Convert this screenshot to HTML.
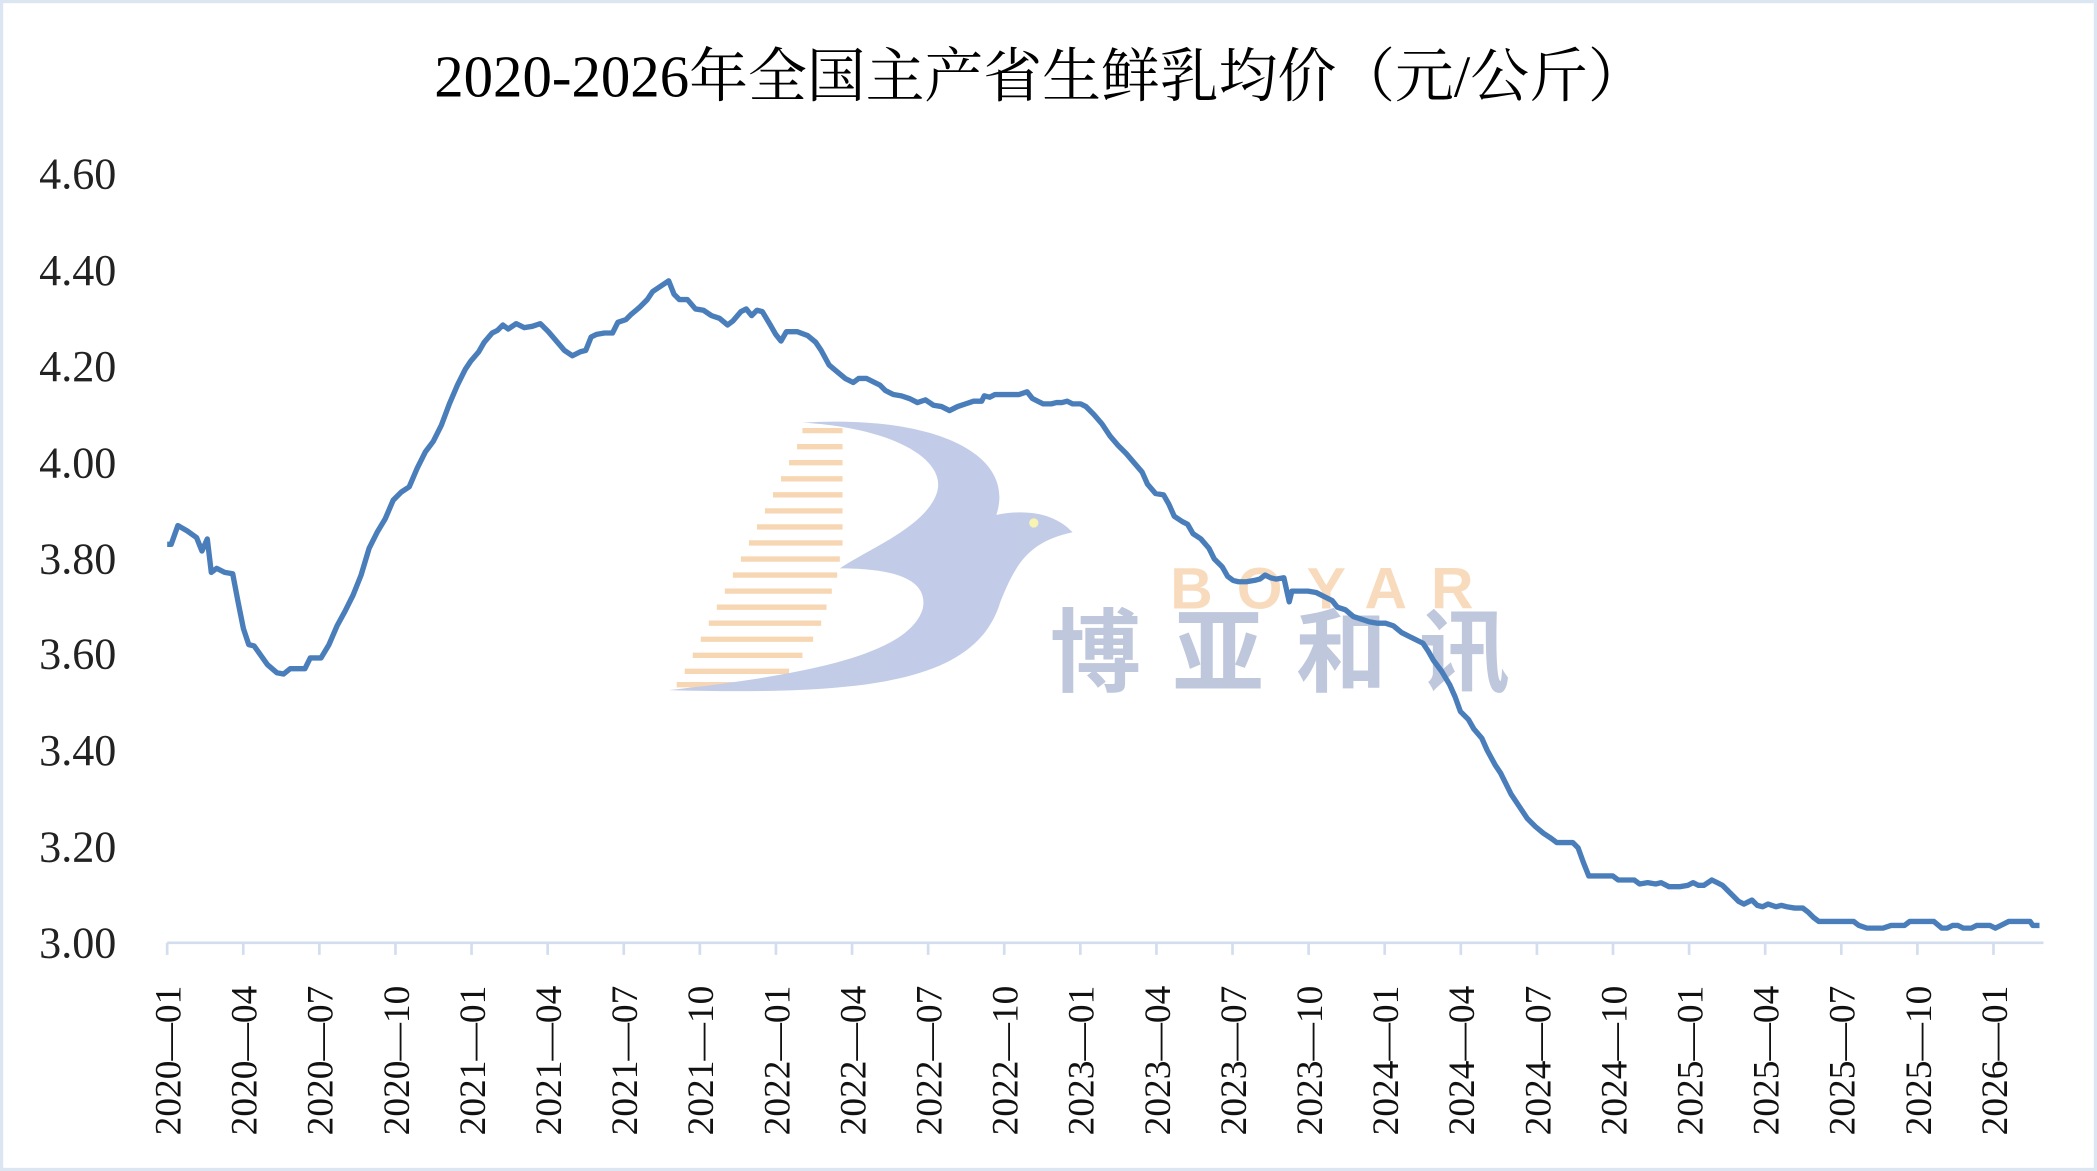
<!DOCTYPE html>
<html><head><meta charset="utf-8"><style>
html,body{margin:0;padding:0;background:#fff;}
svg{display:block;}
</style></head><body>
<svg width="2097" height="1171" viewBox="0 0 1568 875.6" preserveAspectRatio="none" xmlns="http://www.w3.org/2000/svg">
<rect x="0" y="0" width="1568" height="875.6" fill="#fff"/>
<rect x="1.2" y="1.2" width="1565.6" height="873.2" fill="none" stroke="#dce6f2" stroke-width="2.4"/>
<text x="778" y="72" text-anchor="middle" font-family="Liberation Serif, 'Noto Serif CJK SC', serif" font-size="44" fill="#000">2020-2026年全国主产省生鲜乳均价（元/公斤）</text>
<g font-family="Liberation Serif, serif" font-size="33" fill="#222" text-anchor="end">
<text x="87" y="141">4.60</text><text x="87" y="213">4.40</text><text x="87" y="285">4.20</text>
<text x="87" y="357">4.00</text><text x="87" y="429">3.80</text><text x="87" y="500">3.60</text>
<text x="87" y="572">3.40</text><text x="87" y="644">3.20</text><text x="87" y="716">3.00</text>
</g>
<!-- watermark -->
<g opacity="0.75">
<g stroke="#f5c99a" stroke-width="4">
<line x1="600" y1="322" x2="630" y2="322"/><line x1="596" y1="334" x2="630" y2="334"/><line x1="590" y1="346" x2="630" y2="346"/><line x1="584" y1="358" x2="630" y2="358"/><line x1="578" y1="370" x2="630" y2="370"/><line x1="572" y1="382" x2="630" y2="382"/><line x1="566" y1="394" x2="630" y2="394"/><line x1="560" y1="406" x2="630" y2="406"/><line x1="554" y1="418" x2="628" y2="418"/><line x1="548" y1="430" x2="626" y2="430"/><line x1="542" y1="442" x2="622" y2="442"/><line x1="536" y1="454" x2="618" y2="454"/><line x1="530" y1="466" x2="614" y2="466"/><line x1="524" y1="478" x2="608" y2="478"/><line x1="518" y1="490" x2="600" y2="490"/><line x1="512" y1="502" x2="590" y2="502"/><line x1="506" y1="512" x2="580" y2="512"/>
</g>
<path d="M600 316 C700 310 760 340 745 385 C770 380 790 385 802 398 C770 405 760 420 748 450 C730 510 650 520 500 516 C600 505 680 490 690 455 C695 430 660 425 628 425 C650 410 690 395 700 370 C710 345 670 320 600 316 Z" fill="#aebbe0"/>
<circle cx="773" cy="391" r="3.5" fill="#f3ef9a"/>
<text x="875" y="455" font-family="Liberation Sans, sans-serif" font-weight="bold" font-size="44" letter-spacing="18" fill="#f6cfa6">BOYAR</text>
<text x="785" y="512" font-family="'Noto Sans CJK SC', sans-serif" font-weight="bold" font-size="68" letter-spacing="24" fill="#a9b5d0">博亚和讯</text>
</g>
<!-- axis -->
<line x1="125" y1="705" x2="1528" y2="705" stroke="#d2deee" stroke-width="2"/>
<g stroke="#d2deee" stroke-width="2">
<line x1="125" y1="705" x2="125" y2="714"/><line x1="181.9" y1="705" x2="181.9" y2="714"/><line x1="238.8" y1="705" x2="238.8" y2="714"/><line x1="295.7" y1="705" x2="295.7" y2="714"/><line x1="352.6" y1="705" x2="352.6" y2="714"/><line x1="409.5" y1="705" x2="409.5" y2="714"/><line x1="466.4" y1="705" x2="466.4" y2="714"/><line x1="523.3" y1="705" x2="523.3" y2="714"/><line x1="580.2" y1="705" x2="580.2" y2="714"/><line x1="637.1" y1="705" x2="637.1" y2="714"/><line x1="694" y1="705" x2="694" y2="714"/><line x1="750.9" y1="705" x2="750.9" y2="714"/><line x1="807.8" y1="705" x2="807.8" y2="714"/><line x1="864.7" y1="705" x2="864.7" y2="714"/><line x1="921.6" y1="705" x2="921.6" y2="714"/><line x1="978.5" y1="705" x2="978.5" y2="714"/><line x1="1035.4" y1="705" x2="1035.4" y2="714"/><line x1="1092.3" y1="705" x2="1092.3" y2="714"/><line x1="1149.2" y1="705" x2="1149.2" y2="714"/><line x1="1206.1" y1="705" x2="1206.1" y2="714"/><line x1="1263" y1="705" x2="1263" y2="714"/><line x1="1319.9" y1="705" x2="1319.9" y2="714"/><line x1="1376.8" y1="705" x2="1376.8" y2="714"/><line x1="1433.7" y1="705" x2="1433.7" y2="714"/><line x1="1490.6" y1="705" x2="1490.6" y2="714"/>
</g>
<g font-family="Liberation Serif, serif" font-size="28" fill="#111" text-anchor="end">
<text transform="translate(135,737) rotate(-90)">2020—01</text>
<text transform="translate(191.9,737) rotate(-90)">2020—04</text>
<text transform="translate(248.8,737) rotate(-90)">2020—07</text>
<text transform="translate(305.7,737) rotate(-90)">2020—10</text>
<text transform="translate(362.6,737) rotate(-90)">2021—01</text>
<text transform="translate(419.5,737) rotate(-90)">2021—04</text>
<text transform="translate(476.4,737) rotate(-90)">2021—07</text>
<text transform="translate(533.3,737) rotate(-90)">2021—10</text>
<text transform="translate(590.2,737) rotate(-90)">2022—01</text>
<text transform="translate(647.1,737) rotate(-90)">2022—04</text>
<text transform="translate(704,737) rotate(-90)">2022—07</text>
<text transform="translate(760.9,737) rotate(-90)">2022—10</text>
<text transform="translate(817.8,737) rotate(-90)">2023—01</text>
<text transform="translate(874.7,737) rotate(-90)">2023—04</text>
<text transform="translate(931.6,737) rotate(-90)">2023—07</text>
<text transform="translate(988.5,737) rotate(-90)">2023—10</text>
<text transform="translate(1045.4,737) rotate(-90)">2024—01</text>
<text transform="translate(1102.3,737) rotate(-90)">2024—04</text>
<text transform="translate(1159.2,737) rotate(-90)">2024—07</text>
<text transform="translate(1216.1,737) rotate(-90)">2024—10</text>
<text transform="translate(1273,737) rotate(-90)">2025—01</text>
<text transform="translate(1329.9,737) rotate(-90)">2025—04</text>
<text transform="translate(1386.8,737) rotate(-90)">2025—07</text>
<text transform="translate(1443.7,737) rotate(-90)">2025—10</text>
<text transform="translate(1500.6,737) rotate(-90)">2026—01</text>
</g>
<polyline fill="none" stroke="#4a7ebb" stroke-width="4" stroke-linejoin="round" points="125,407 128,407 133,393 140,397 147,402 151,412 155,403 158,428 162,425 168,428 174,429 178,450 182,470 186,482 190,483 195,490 200,497 207,503 212,504 217,500 228,500 232,492 240,492 246,482 252,468 258,457 264,445 270,430 276,410 282,398 288,388 294,374 300,368 306,364 312,350 318,338 324,330 330,318 336,302 342,288 348,276 352,270 358,263 362,256 368,249 372,247 376,243 380,246 386,242 392,245 398,244 404,242 410,248 416,255 422,262 428,266 434,263 438,262 442,252 446,250 452,249 458,249 462,241 468,239 472,235 478,230 484,224 488,218 494,214 500,210 504,220 508,224 514,224 520,231 526,232 532,236 538,238 544,243 548,240 554,233 558,231 562,236 566,232 570,233 576,243 580,250 584,255 588,248 596,248 604,251 610,256 614,262 620,273 626,278 632,283 638,286 642,283 648,283 654,286 658,288 662,292 668,295 674,296 680,298 686,301 692,299 698,303 704,304 710,307 716,304 722,302 728,300 734,300 736,296 740,297 744,295 750,295 756,295 762,295 768,293 772,298 776,300 780,302 786,302 790,301 794,301 798,300 802,302 808,302 812,304 818,310 824,317 830,326 836,333 842,339 848,346 854,353 858,362 864,369 870,370 874,377 878,386 884,390 888,392 892,399 898,403 904,410 908,418 914,424 918,431 922,434 926,435 932,435 938,434 942,433 946,430 950,432 954,433 960,432 964,450 966,442 972,442 978,442 984,443 990,446 996,449 1000,454 1006,456 1012,461 1018,463 1024,465 1030,466 1036,466 1042,468 1048,473 1054,476 1058,478 1064,481 1068,487 1072,494 1078,502 1084,512 1088,521 1092,532 1098,538 1102,545 1108,552 1112,561 1118,572 1122,578 1126,586 1130,594 1136,603 1142,612 1148,618 1154,623 1160,627 1164,630 1170,630 1176,630 1180,634 1184,645 1188,655 1192,655 1198,655 1206,655 1210,658 1216,658 1222,658 1226,661 1232,660 1238,661 1242,660 1248,663 1256,663 1262,662 1266,660 1270,662 1274,662 1280,658 1284,660 1288,662 1292,666 1296,670 1300,674 1304,676 1310,673 1314,677 1318,678 1322,676 1328,678 1332,677 1336,678 1342,679 1348,679 1352,682 1356,686 1360,689 1364,689 1370,689 1376,689 1382,689 1386,689 1390,692 1396,694 1402,694 1408,694 1414,692 1420,692 1424,692 1428,689 1434,689 1440,689 1446,689 1452,694 1456,694 1460,692 1464,692 1468,694 1474,694 1478,692 1482,692 1488,692 1492,694 1496,692 1502,689 1508,689 1514,689 1518,689 1520,692 1525,692"/>
</svg>
</body></html>
